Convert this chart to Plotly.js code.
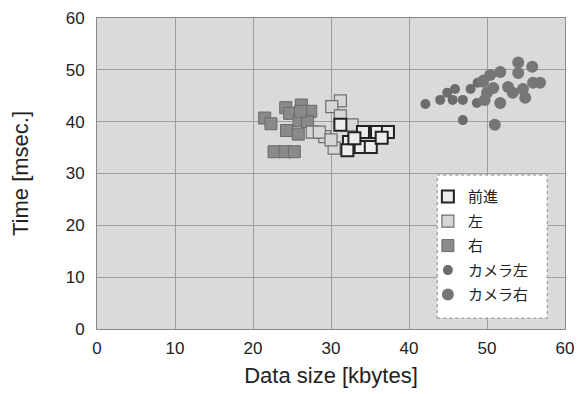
<!DOCTYPE html>
<html><head><meta charset="utf-8">
<script src="https://cdn.plot.ly/plotly-3.0.1.min.js"></script>
<style>body{margin:0;background:#fff}#c{width:578px;height:394px}</style>
</head><body><div id="c"></div>
<script>
// 前進 (forward)
const fwdX = [31.2, 32.3, 32.1, 34.1, 35.9, 37.3, 33.8, 35.1, 33.0, 36.5];
const fwdY = [39.4, 36.1, 34.5, 38.0, 38.0, 38.0, 35.1, 35.1, 36.8, 36.9];
// 左 (left)
const leftX = [31.2, 30.1, 31.2, 27.6, 29.2, 30.4, 28.5, 32.7, 30.0];
const leftY = [44.0, 42.9, 41.1, 38.0, 37.1, 34.9, 38.0, 39.4, 36.5];
// 右 (right)
const rightX = [21.5, 22.3, 24.2, 24.7, 26.2, 27.4, 25.9, 27.0, 24.3, 25.8, 22.7, 24.1, 25.3, 26.1];
const rightY = [40.7, 39.6, 42.7, 41.6, 43.2, 42.0, 40.2, 40.0, 38.3, 37.6, 34.2, 34.2, 34.2, 42.0];
// カメラ左 (camera left)
const camLX = [42.1, 44.0, 44.9, 45.9, 45.6, 46.9, 47.9, 48.8, 46.9, 48.7, 49.5];
const camLY = [43.4, 44.2, 45.6, 46.3, 44.2, 44.2, 46.3, 47.5, 40.3, 43.6, 48.1];
// カメラ右 (camera right)
const camRX = [54.0, 55.8, 54.0, 51.7, 50.4, 49.5, 50.8, 52.7, 54.6, 55.9, 56.8, 54.9, 53.3, 51.7, 49.7, 51.0, 50.0];
const camRY = [51.4, 50.6, 49.4, 49.6, 49.0, 47.7, 46.5, 46.7, 46.3, 47.5, 47.5, 44.6, 45.6, 43.6, 44.2, 39.4, 45.6];

const names = ['前進', '左', '右', 'カメラ左', 'カメラ右'];
const tickVals = [0, 10, 20, 30, 40, 50, 60];

const FONT = 'Liberation Sans, Arial, Noto Sans CJK JP, sans-serif';

const traces = [
  {x: rightX, y: rightY, name: names[2], legendgroup: 'g3', legendrank: 3, mode: 'markers', type: 'scatter',
   marker: {symbol: 'square', size: 12, color: '#8a8a8a', line: {color: '#6a6a6a', width: 1}}},
  {x: leftX, y: leftY, name: names[1], legendgroup: 'g2', legendrank: 2, mode: 'markers', type: 'scatter',
   marker: {symbol: 'square', size: 12, color: '#d6d6d6', line: {color: '#6e6e6e', width: 1.2}}},
  {x: fwdX, y: fwdY, name: names[0], legendgroup: 'g1', legendrank: 1, mode: 'markers', type: 'scatter',
   marker: {symbol: 'square', size: 12, color: '#ececec', line: {color: '#222', width: 2}}},
  {x: camLX, y: camLY, name: names[3], legendgroup: 'g4', legendrank: 4, mode: 'markers', type: 'scatter',
   marker: {symbol: 'circle', size: 10, color: '#6c6c6c'}},
  {x: camRX, y: camRY, name: names[4], legendgroup: 'g5', legendrank: 5, mode: 'markers', type: 'scatter',
   marker: {symbol: 'circle', size: 12, color: '#767676'}}
];

const layout = {
  width: 578, height: 394,
  margin: {l: 97, r: 13, t: 18, b: 65},
  paper_bgcolor: '#ffffff',
  plot_bgcolor: '#dadada',
  font: {family: FONT, color: '#222', size: 17},
  showlegend: true,
  legend: {
    x: 0.707, y: 0.478, xanchor: 'left', yanchor: 'top',
    bgcolor: 'rgba(255,255,255,0)', borderwidth: 0,
    font: {family: 'Noto Sans CJK JP, sans-serif', size: 15, color: '#222'},
    traceorder: 'grouped', itemsizing: 'trace', tracegroupgap: 2
  },
  xaxis: {
    range: [0, 60], tickvals: tickVals, ticktext: tickVals.map(String),
    showgrid: true, gridcolor: '#9e9e9e', gridwidth: 1,
    zeroline: false, showline: true, mirror: true, linecolor: '#8a8a8a', linewidth: 1,
    ticks: '', ticklabelstandoff: 4, automargin: false,
    tickfont: {size: 17, family: FONT, color: '#222'},
    title: {text: 'Data size [kbytes]', font: {size: 22, family: FONT, color: '#222'}, standoff: 10}
  },
  yaxis: {
    range: [0, 60], tickvals: tickVals, ticktext: tickVals.map(String),
    showgrid: true, gridcolor: '#9e9e9e', gridwidth: 1,
    zeroline: false, showline: true, mirror: true, linecolor: '#8a8a8a', linewidth: 1,
    ticks: '', ticklabelstandoff: 8, automargin: false,
    tickfont: {size: 17, family: FONT, color: '#222'},
    title: {text: 'Time [msec.]', font: {size: 22, family: FONT, color: '#222'}, standoff: 30}
  },
  shapes: [{
    type: 'rect', xref: 'paper', yref: 'paper',
    x0: 0.727, x1: 0.962, y0: 0.035, y1: 0.495,
    line: {color: '#888', width: 1, dash: 'dot'}, fillcolor: '#ffffff', layer: 'above'
  }]
};

Plotly.newPlot('c', traces, layout, {staticPlot: true});
</script></body></html>
